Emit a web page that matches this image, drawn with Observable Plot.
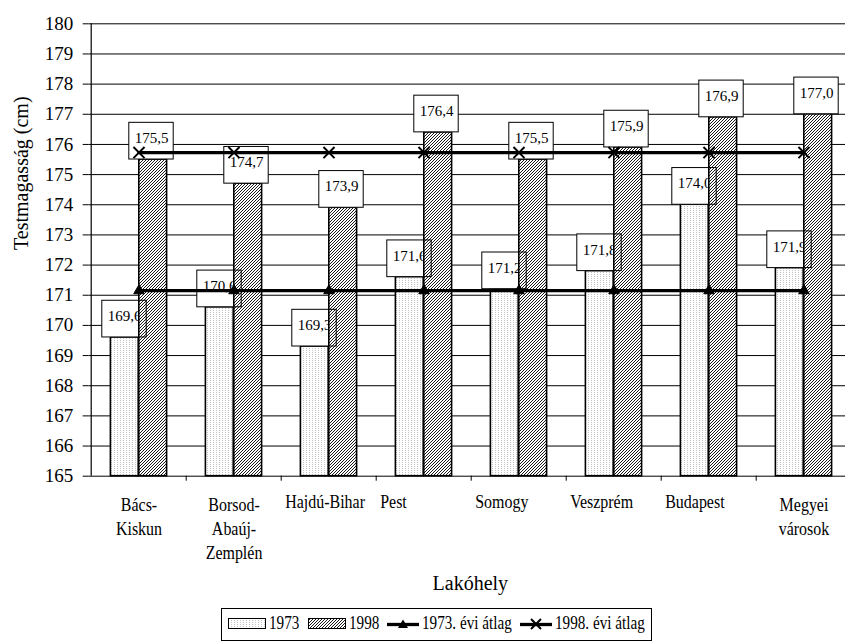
<!DOCTYPE html>
<html>
<head>
<meta charset="utf-8">
<script src="https://cdn.jsdelivr.net/npm/d3@7"></script>
<script src="https://cdn.jsdelivr.net/npm/@observablehq/plot@0.6"></script>
<style>
  body { margin: 0; background: #fff; color: #000; font-family: "Liberation Serif", "Times New Roman", serif; }
  #chart { width: 845px; height: 604px; overflow: hidden; }
  #legend { position: absolute; top: 608px; left: 14px; width: 845px; display: flex; justify-content: center; }
  #legend .box { display: flex; align-items: center; border: 1px solid #000; padding: 4px 6px 6px 6px; font-size: 18.5px; background: #fff; }
  #legend .item { display: flex; align-items: center; margin-right: 8px; }
  #legend .item:last-child { margin-right: 0; }
  #legend svg { margin-right: 3px; }
  #legend span { display: inline-block; transform-origin: 0 50%; white-space: nowrap; }
</style>
</head>
<body>
<div id="chart"></div>
<div id="legend"></div>
<script>
// ---- data ----
const categories = ["Bács-\nKiskun", "Borsod-\nAbaúj-\nZemplén", "Hajdú-Bihar", "Pest", "Somogy", "Veszprém", "Budapest", "Megyei\nvárosok"];
const values1973 = [169.6, 170.6, 169.3, 171.6, 171.2, 171.8, 174.0, 171.9];
const values1998 = [175.5, 174.7, 173.9, 176.4, 175.5, 175.9, 176.9, 177.0];
const avg1973 = [171.15, 171.15, 171.15, 171.15, 171.15, 171.15, 171.15, 171.15];
const avg1998 = [175.73, 175.73, 175.73, 175.73, 175.73, 175.73, 175.73, 175.73];
const yTicks = [165, 166, 167, 168, 169, 170, 171, 172, 173, 174, 175, 176, 177, 178, 179, 180];
const legendLabels = ["1973", "1998", "1973. évi átlag", "1998. évi átlag"];
const xTitle = "Lakóhely";
const yTitle = "Testmagasság (cm)";

const rows = categories.map((c, i) => ({cat: c, v73: values1973[i], v98: values1998[i], a73: avg1973[i], a98: avg1998[i]}));
const fmt = v => v.toFixed(1).replace(".", ",");

// ---- layout / style ----
const W = 845, H = 604;
const xRange = [88.7, 853.5];
const step = (xRange[1] - xRange[0]) / categories.length;
const barW = 28.4;
const boxH = 36.7;
const F = "Liberation Serif";

const chart = Plot.plot({
  width: W,
  height: H,
  marginLeft: 88.7,
  marginRight: 0,
  marginTop: 23.3,
  marginBottom: H - 475.7,
  style: {fontFamily: F, fontSize: "19px", color: "#000", background: "#fff", overflow: "hidden"},
  x: {type: "band", domain: categories, range: xRange, padding: 0, axis: null},
  y: {domain: [165, 180], ticks: yTicks, tickSize: 6, tickPadding: 10, label: null, tickFormat: d => String(d)},
  marks: [
    // gridlines
    Plot.ruleY(yTicks, {y: d => d, stroke: "#000", strokeWidth: 1}),
    // 1973 bars
    Plot.barY(rows, {x: "cat", y1: 165, y2: "v73", fill: "url(#p73)", stroke: "#000", strokeWidth: 1.6,
      insetLeft: step / 2 - barW, insetRight: step / 2}),
    // 1973 label boxes (fill) + text
    Plot.barY(rows, {x: "cat", y1: "v73", y2: "v73", fill: "#fff", insetTop: -boxH,
      insetLeft: step / 2 - 37, insetRight: step / 2 - 8}),
    Plot.text(rows, {x: "cat", y: "v73", text: d => fmt(d.v73), dx: -14.5, dy: -16.5, lineAnchor: "bottom", fontSize: 15, fontFamily: F}),
    // 1998 bars
    Plot.barY(rows, {x: "cat", y1: 165, y2: "v98", fill: "url(#p98)", stroke: "#000", strokeWidth: 1.6,
      insetLeft: step / 2, insetRight: step / 2 - barW}),
    // 1973 label box outlines
    Plot.barY(rows, {x: "cat", y1: "v73", y2: "v73", fill: "none", stroke: "#000", strokeWidth: 1, insetTop: -boxH,
      insetLeft: step / 2 - 37, insetRight: step / 2 - 8}),
    // 1998 label boxes + text
    Plot.barY(rows, {x: "cat", y1: "v98", y2: "v98", fill: "#fff", stroke: "#000", strokeWidth: 1, insetTop: -boxH,
      insetLeft: step / 2 - 10, insetRight: step / 2 - 35}),
    Plot.text(rows, {x: "cat", y: "v98", text: d => fmt(d.v98), dx: 12.5, dy: -16.5, lineAnchor: "bottom", fontSize: 15, fontFamily: F}),
    // average lines
    Plot.lineY(rows, {x: "cat", y: "a73", stroke: "#000", strokeWidth: 3.3}),
    Plot.dot(rows, {x: "cat", y: "a73", symbol: "triangle", r: 3.9, fill: "#000", stroke: "#000", strokeWidth: 1}),
    Plot.lineY(rows, {x: "cat", y: "a98", stroke: "#000", strokeWidth: 3.3}),
    Plot.dot(rows, {x: "cat", y: "a98", symbol: "times", r: 5.1, stroke: "#000", strokeWidth: 2}),
    // y axis line
    Plot.ruleX([categories[0]], {x: d => d, dx: -step / 2, y1: 165, y2: 180, stroke: "#000", strokeWidth: 1.2}),
    // x axis ticks at band boundaries
    Plot.ruleX(categories.slice(1), {x: d => d, dx: -step / 2, y1: 165, y2: 165, insetBottom: -5, stroke: "#000", strokeWidth: 1}),
    // x tick labels: wrapped ones centred, single-line ones start at band edge
    Plot.text(categories.filter(c => c.includes("\n")), {x: d => d, frameAnchor: "bottom", lineAnchor: "top", dy: 18.5,
      lineHeight: 1.24, fontSize: 19, fontFamily: F, ariaDescription: "xlabels"}),
    Plot.text(categories.filter(c => !c.includes("\n")), {x: d => d, frameAnchor: "bottom", lineAnchor: "top", dy: 18.5,
      textAnchor: "start", dx: -step / 2 + 4, fontSize: 19, fontFamily: F, ariaDescription: "xlabels"}),
    // axis titles
    Plot.text([xTitle], {frameAnchor: "bottom", dy: 114, dx: 3, lineAnchor: "bottom", fontSize: 20, fontFamily: F}),
    Plot.text([yTitle], {frameAnchor: "left", rotate: -90, dx: -67.7, fontSize: 20, fontFamily: F})
  ]
});

// fill patterns for the bars
const defs = d3.select(chart).insert("defs", ":first-child");
const p73 = defs.append("pattern").attr("id", "p73").attr("patternUnits", "userSpaceOnUse").attr("width", 3).attr("height", 2);
p73.append("rect").attr("width", 3).attr("height", 2).attr("fill", "#fff");
p73.append("rect").attr("width", 1).attr("height", 1).attr("fill", "#c4c4c4");
const p98 = defs.append("pattern").attr("id", "p98").attr("patternUnits", "userSpaceOnUse").attr("width", 3).attr("height", 3);
p98.append("rect").attr("width", 3).attr("height", 3).attr("fill", "#fff");
p98.append("path").attr("d", "M-1,1 l2,-2 M0,3 l3,-3 M2,4 l2,-2").attr("stroke", "#000").attr("stroke-width", 0.9);

document.getElementById("chart").appendChild(chart);

// the reference's lettering is narrower than the font: condense glyphs horizontally
function condense(el, k) {
  const L = el.getComputedTextLength();
  if (L > 0) {
    el.setAttribute("textLength", (L * k).toFixed(1));
    el.setAttribute("lengthAdjust", "spacingAndGlyphs");
  }
}
d3.select(chart).selectAll('g[aria-description="xlabels"] text').each(function () {
  const spans = this.querySelectorAll("tspan");
  if (spans.length) spans.forEach(s => condense(s, 0.84));
  else condense(this, 0.84);
});

// ---- legend (HTML, below the SVG) ----
function swatch(id) {
  return `<svg width="38" height="11"><defs>${id === "p73"
    ? '<pattern id="l73" patternUnits="userSpaceOnUse" width="3" height="2"><rect width="3" height="2" fill="#fff"/><rect width="1" height="1" fill="#c4c4c4"/></pattern>'
    : '<pattern id="l98" patternUnits="userSpaceOnUse" width="3" height="3"><rect width="3" height="3" fill="#fff"/><path d="M-1,1 l2,-2 M0,3 l3,-3 M2,4 l2,-2" stroke="#000" stroke-width="0.9"/></pattern>'}</defs>
    <rect x="0.5" y="0.5" width="37" height="10" fill="url(#${id === "p73" ? "l73" : "l98"})" stroke="#000" stroke-width="1"/></svg>`;
}
function lineSwatch(kind) {
  const marker = kind === "tri"
    ? '<path d="M16,1.5 L21,10 L11,10 Z" fill="#000"/>'
    : '<path d="M11,1 L21,11 M21,1 L11,11" stroke="#000" stroke-width="2"/>';
  return `<svg width="32" height="12"><line x1="0" y1="6.5" x2="32" y2="6.5" stroke="#000" stroke-width="3.3"/>${marker}</svg>`;
}
const items = [swatch("p73"), swatch("p98"), lineSwatch("tri"), lineSwatch("x")];
document.getElementById("legend").innerHTML =
  `<div class="box">${legendLabels.map((t, i) => `<div class="item">${items[i]}<span>${t}</span></div>`).join("")}</div>`;
// condense legend lettering the same way
document.querySelectorAll("#legend span").forEach(s => {
  const w = s.getBoundingClientRect().width;
  s.style.transform = "scaleX(0.82)";
  s.style.marginRight = (-(w * 0.18)).toFixed(1) + "px";
});
</script>
</body>
</html>
